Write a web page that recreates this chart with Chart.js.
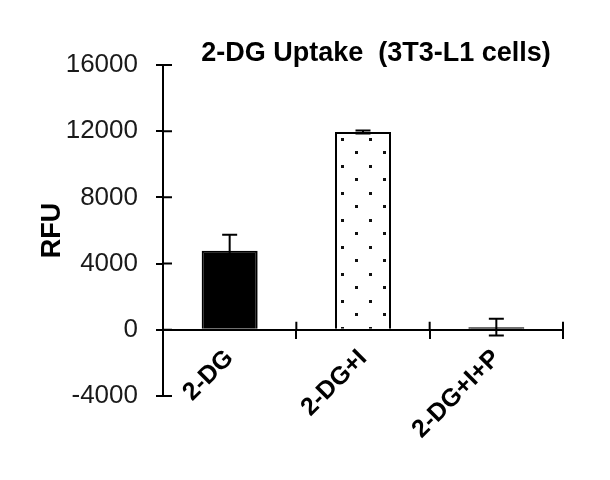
<!DOCTYPE html>
<html>
<head>
<meta charset="utf-8">
<script src="https://cdn.jsdelivr.net/npm/chart.js@4.4.0/dist/chart.umd.min.js"></script>
<style>
  body { margin: 0; background: #fff; }
</style>
</head>
<body>
<canvas id="myChart" width="610" height="480"></canvas>
<script>
// dados
const categorias = ['2-DG', '2-DG+I', '2-DG+I+P'];
const valores = [4770, 11950, 160];
const erros = [970, 90, 510];
const marcasY = [-4000, 0, 4000, 8000, 12000, 16000];
const titulo = '2-DG Uptake  (3T3-L1 cells)';
const rotuloY = 'RFU';

const fonte = "'Liberation Sans', Arial, sans-serif";
const ctx = document.getElementById('myChart');

// padrao pontilhado da barra do meio
function pontinhos() {
  const c = document.createElement('canvas');
  c.width = 28; c.height = 27;
  const g = c.getContext('2d');
  g.fillStyle = '#fff';
  g.fillRect(0, 0, 28, 27);
  g.fillStyle = '#111';
  g.fillRect(5, 3, 3, 3);
  g.fillRect(19, 16, 3, 3);
  return ctx.getContext('2d').createPattern(c, 'repeat');
}

const barrasErro = {
  id: 'barrasErro',
  afterDatasetsDraw(chart) {
    const c = chart.ctx;
    const y = chart.scales.y;
    const meta = chart.getDatasetMeta(0);
    c.save();
    c.strokeStyle = '#000';
    c.lineWidth = 2;
    meta.data.forEach((bar, i) => {
      const cima = y.getPixelForValue(valores[i] + erros[i]);
      const baixo = y.getPixelForValue(valores[i] - erros[i]);
      c.beginPath();
      c.moveTo(bar.x, cima); c.lineTo(bar.x, baixo);
      c.moveTo(bar.x - 7.5, cima); c.lineTo(bar.x + 7.5, cima);
      c.moveTo(bar.x - 7.5, baixo); c.lineTo(bar.x + 7.5, baixo);
      c.stroke();
    });
    c.restore();
  }
};

// metade de dentro dos risquinhos (os de fora sao do proprio Chart.js)
const risquinhos = {
  id: 'risquinhos',
  afterLayout(chart) {
    // titulo um pouco para a direita, como no original
    if (chart.titleBlock) {
      chart.titleBlock.left += 13;
      chart.titleBlock.right += 13;
    }
  },
  afterDraw(chart) {
    const { x, y } = chart.scales;
    const c = chart.ctx;
    const y0 = y.getPixelForValue(0);
    const passo = x.getPixelForValue(1) - x.getPixelForValue(0);
    c.save();
    c.strokeStyle = '#000';
    c.lineWidth = 2;
    c.beginPath();
    y.ticks.forEach(t => {
      const py = y.getPixelForValue(t.value);
      c.moveTo(x.left, py); c.lineTo(x.left + 9, py);
    });
    for (let i = 0; i < categorias.length; i++) {
      const px = x.getPixelForValue(i) + passo / 2;
      c.moveTo(px, y0 - 8); c.lineTo(px, y0);
    }
    c.stroke();
    c.restore();
  }
};

const data = {
  labels: categorias,
  datasets: [{
    data: valores,
    backgroundColor: ['#000', pontinhos(), '#000'],
    borderColor: '#000',
    borderWidth: 2,
    barPercentage: 0.42,
    categoryPercentage: 1
  }]
};

const config = {
  type: 'bar',
  data,
  options: {
    responsive: false,
    animation: false,
    layout: { padding: { top: 0, right: 47, bottom: 84, left: 0 } },
    plugins: {
      legend: { display: false },
      tooltip: { enabled: false },
      title: {
        display: true,
        text: titulo,
        align: 'center',
        fullSize: false,
        color: '#000',
        font: { family: fonte, size: 27, weight: 'bold', lineHeight: 0.85 },
        padding: { top: 42, bottom: 0 }
      }
    },
    scales: {
      x: {
        position: { y: 0 },
        grid: { drawOnChartArea: false, color: '#000', lineWidth: 2, tickLength: 8 },
        border: { color: '#000', width: 2 },
        ticks: {
          minRotation: 45, maxRotation: 45, autoSkip: false, padding: 6,
          color: '#000', font: { family: fonte, size: 25, weight: 'bold' }
        }
      },
      y: {
        min: -4000,
        max: 16000,
        afterFit: s => { s.width = 163; },
        afterBuildTicks: s => { s.ticks = marcasY.map(v => ({ value: v })); },
        grid: { drawOnChartArea: false, color: '#000', lineWidth: 2, tickLength: 7 },
        border: { color: '#000', width: 2 },
        ticks: {
          padding: 18, color: '#1a1a1a',
          font: { family: fonte, size: 26 },
          callback: v => String(v)
        },
        title: {
          display: true, text: rotuloY, color: '#000',
          font: { family: fonte, size: 27, weight: 'bold' },
          padding: { top: 36, bottom: 0 }
        }
      }
    }
  },
  plugins: [barrasErro, risquinhos]
};

const myChart = new Chart(ctx, config);
</script>
</body>
</html>
